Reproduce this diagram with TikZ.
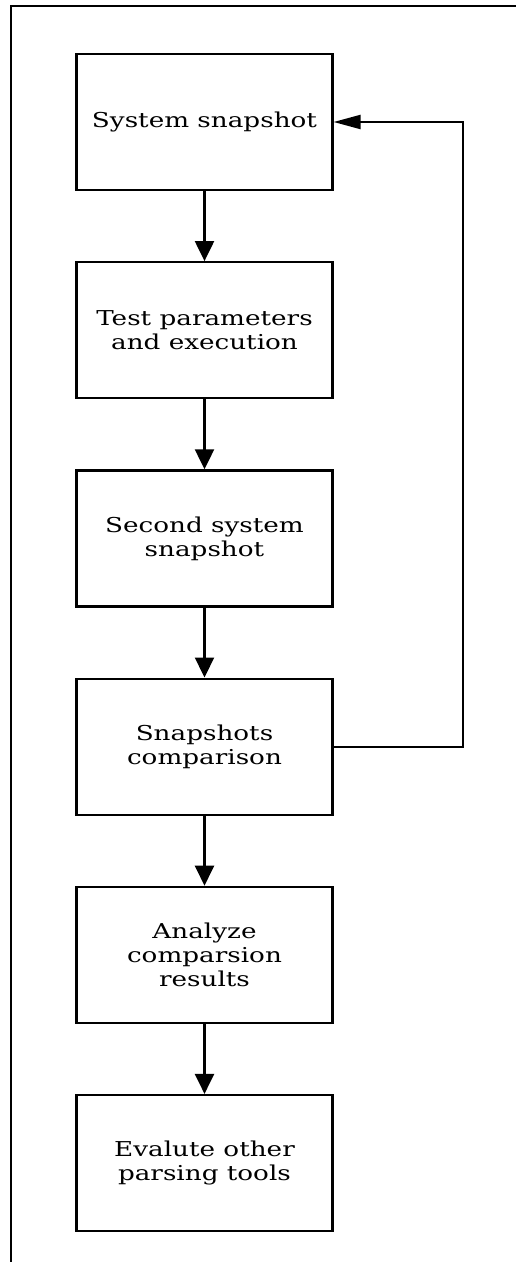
\documentclass[tikz,border=0pt]{standalone}
\usepackage{fontspec}
\setmainfont{DejaVu Serif}[FakeStretch=1.28]
\usetikzlibrary{positioning,arrows.meta}

\tikzset{
  box/.style={draw, line width=2.2pt, rectangle, minimum width=256pt,
    minimum height=136pt, align=center,
    font=\fontsize{20.5}{24}\selectfont},
  flow/.style={line width=2.2pt, -{Triangle[length=20pt,width=19pt]}},
  back/.style={line width=2.2pt, -{Triangle[length=27pt,width=14pt]}}
}

\begin{document}
\begin{tikzpicture}[x=1pt, y=-1pt, node distance=70pt]

  \useasboundingbox (0,0) rectangle (516,1262);
  \draw [line width=2.6pt] (516,6) -- (11,6) -- (11,1262);

  \node (snap) [box] at (204.5,122) {System snapshot};
  \node (test) [box, below=of snap] {Test parameters\\and execution};
  \node (snap2) [box, below=of test] {Second system\\snapshot};
  \node (cmp) [box, below=of snap2] {Snapshots\\comparison};
  \node (ana) [box, below=of cmp] {Analyze\\comparsion\\results};
  \node (eval) [box, below=of ana] {Evalute other\\parsing tools};

  \draw [flow] (snap) -- (test);
  \draw [flow] (test) -- (snap2);
  \draw [flow] (snap2) -- (cmp);
  \draw [flow] (cmp) -- (ana);
  \draw [flow] (ana) -- (eval);
  \draw [back] (cmp.east) -- ++(129,0) |- (snap.east);

\end{tikzpicture}
\end{document}
